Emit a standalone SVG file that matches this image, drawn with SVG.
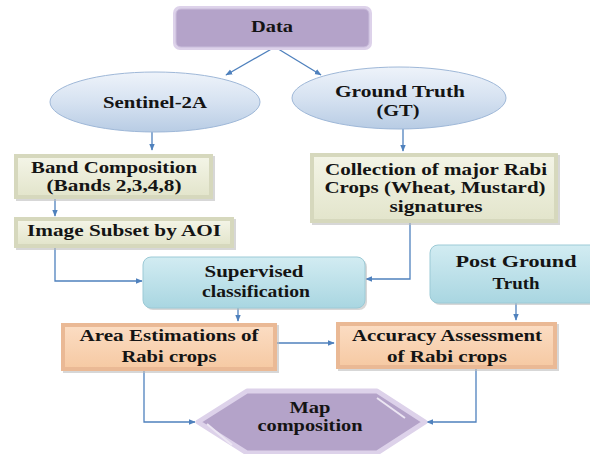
<svg xmlns="http://www.w3.org/2000/svg" width="590" height="454" viewBox="0 0 590 454">
<style>
text{font-family:"Liberation Serif","Times New Roman",serif;font-weight:bold;font-size:16.5px;fill:#141414;text-anchor:middle}
.c{fill:none;stroke:#4f81bd;stroke-width:1.3}
.sh{fill:#bdbdbd;opacity:0.6}
</style>
<defs>
<marker id="ah" viewBox="0 0 10 10" refX="9" refY="5" markerWidth="7" markerHeight="7" orient="auto-start-reverse" markerUnits="userSpaceOnUse"><path d="M0,1 L10,5 L0,9 z" fill="#4f81bd"/></marker>
<linearGradient id="gEll" x1="0" y1="0" x2="0" y2="1"><stop offset="0" stop-color="#eef3fa"/><stop offset="0.5" stop-color="#d6e2f1"/><stop offset="1" stop-color="#b8cce4"/></linearGradient>
<linearGradient id="gTeal" x1="0" y1="0" x2="0" y2="1"><stop offset="0" stop-color="#d2ecf2"/><stop offset="1" stop-color="#a9d6e1"/></linearGradient>
<linearGradient id="gBeige" x1="0" y1="0" x2="0" y2="1"><stop offset="0" stop-color="#f3f4e6"/><stop offset="1" stop-color="#e3e5cc"/></linearGradient>
<linearGradient id="gPeach" x1="0" y1="0" x2="0" y2="1"><stop offset="0" stop-color="#fbdcc2"/><stop offset="1" stop-color="#f6caa4"/></linearGradient>
</defs>

<g id="connectors">
<path class="c" d="M275,47 L226,75" marker-end="url(#ah)"/>
<path class="c" d="M275,47 L321,75" marker-end="url(#ah)"/>
<path class="c" d="M152,132 L152,150" marker-end="url(#ah)"/>
<path class="c" d="M403,128 L403,151" marker-end="url(#ah)"/>
<path class="c" d="M55,199 L55,216" marker-end="url(#ah)"/>
<path class="c" d="M55,248 L55,281 L142,281" marker-end="url(#ah)"/>
<path class="c" d="M410,223 L410,279 L366,279" marker-end="url(#ah)"/>
<path class="c" d="M238,308 L238,321" marker-end="url(#ah)"/>
<path class="c" d="M516,303 L516,320" marker-end="url(#ah)"/>
<path class="c" d="M277,343 L334,343" marker-end="url(#ah)"/>
<path class="c" d="M144,371 L144,422 L195,422" marker-end="url(#ah)"/>
<path class="c" d="M476,369 L476,422 L427,422" marker-end="url(#ah)"/>
</g>

<g id="data">
<rect x="173" y="6" width="199" height="44" rx="7" fill="#ddd2ea"/>
<rect x="176" y="9" width="193" height="38" rx="5" fill="#b4a3c9" stroke="#c9bcdb" stroke-width="1"/>
<text x="272" y="32" textLength="42" lengthAdjust="spacingAndGlyphs">Data</text>
</g>

<g id="sentinel">
<ellipse cx="155" cy="102" rx="105" ry="30" fill="url(#gEll)" stroke="#9fb8d8" stroke-width="1"/>
<text x="155" y="108" textLength="104" lengthAdjust="spacingAndGlyphs">Sentinel-2A</text>
</g>

<g id="gt">
<ellipse cx="399" cy="98" rx="107" ry="31" fill="url(#gEll)" stroke="#9fb8d8" stroke-width="1"/>
<text x="400" y="97" textLength="130" lengthAdjust="spacingAndGlyphs">Ground Truth</text>
<text x="398" y="116" textLength="43" lengthAdjust="spacingAndGlyphs">(GT)</text>
</g>

<g id="band">
<rect x="16" y="156" width="199" height="45" class="sh"/>
<rect x="14" y="154" width="199" height="45" fill="#d6d8bd"/>
<rect x="18" y="158" width="191" height="37" fill="url(#gBeige)"/>
<text x="114" y="173" textLength="166" lengthAdjust="spacingAndGlyphs">Band Composition</text>
<text x="114" y="191" textLength="135" lengthAdjust="spacingAndGlyphs">(Bands 2,3,4,8)</text>
</g>

<g id="subset">
<rect x="16" y="219" width="220" height="31" class="sh"/>
<rect x="14" y="217" width="220" height="31" fill="#d6d8bd"/>
<rect x="18" y="221" width="212" height="23" fill="url(#gBeige)"/>
<text x="124" y="236" textLength="194" lengthAdjust="spacingAndGlyphs">Image Subset by AOI</text>
</g>

<g id="collection">
<rect x="312" y="155" width="248" height="70" class="sh"/>
<rect x="310" y="153" width="248" height="70" fill="#d6d8bd"/>
<rect x="314" y="157" width="240" height="62" fill="url(#gBeige)"/>
<text x="436" y="175" textLength="222" lengthAdjust="spacingAndGlyphs">Collection of major Rabi</text>
<text x="435" y="193" textLength="221" lengthAdjust="spacingAndGlyphs">Crops (Wheat, Mustard)</text>
<text x="436" y="212" textLength="93" lengthAdjust="spacingAndGlyphs">signatures</text>
</g>

<g id="supervised">
<rect x="145" y="259" width="222" height="51" rx="8" class="sh"/>
<rect x="143" y="257" width="222" height="51" rx="8" fill="url(#gTeal)" stroke="#9ccad6" stroke-width="1"/>
<text x="254" y="277" textLength="99" lengthAdjust="spacingAndGlyphs">Supervised</text>
<text x="256" y="297" textLength="108" lengthAdjust="spacingAndGlyphs">classification</text>
</g>

<g id="post">
<rect x="432" y="247" width="170" height="58" rx="8" class="sh"/>
<rect x="430" y="245" width="170" height="58" rx="8" fill="url(#gTeal)" stroke="#9ccad6" stroke-width="1"/>
<text x="516" y="267" textLength="121" lengthAdjust="spacingAndGlyphs">Post Ground</text>
<text x="516" y="289" textLength="47" lengthAdjust="spacingAndGlyphs">Truth</text>
</g>

<g id="area">
<rect x="63" y="325" width="216" height="48" class="sh"/>
<rect x="61" y="323" width="216" height="48" fill="#eab995"/>
<rect x="65" y="327" width="208" height="40" fill="url(#gPeach)"/>
<text x="169" y="341" textLength="179" lengthAdjust="spacingAndGlyphs">Area Estimations of</text>
<text x="169" y="362" textLength="95" lengthAdjust="spacingAndGlyphs">Rabi crops</text>
</g>

<g id="accuracy">
<rect x="338" y="324" width="221" height="47" class="sh"/>
<rect x="336" y="322" width="221" height="47" fill="#eab995"/>
<rect x="340" y="326" width="213" height="39" fill="url(#gPeach)"/>
<text x="447" y="341" textLength="190" lengthAdjust="spacingAndGlyphs">Accuracy Assessment</text>
<text x="447" y="362" textLength="120" lengthAdjust="spacingAndGlyphs">of Rabi crops</text>
</g>

<g id="map">
<polygon points="198,422 247,391 377,391 425,422 377,453 247,453" fill="#b4a3c9" stroke="#ddd2ea" stroke-width="5" stroke-linejoin="round"/>
<path d="M377,398 L405,418" stroke="#ece6f3" stroke-width="2" fill="none"/>
<path d="M207,424 L232,445" stroke="#ece6f3" stroke-width="2" fill="none"/>
<text x="310" y="413" textLength="41" lengthAdjust="spacingAndGlyphs">Map</text>
<text x="310" y="431" textLength="105" lengthAdjust="spacingAndGlyphs">composition</text>
</g>
</svg>
